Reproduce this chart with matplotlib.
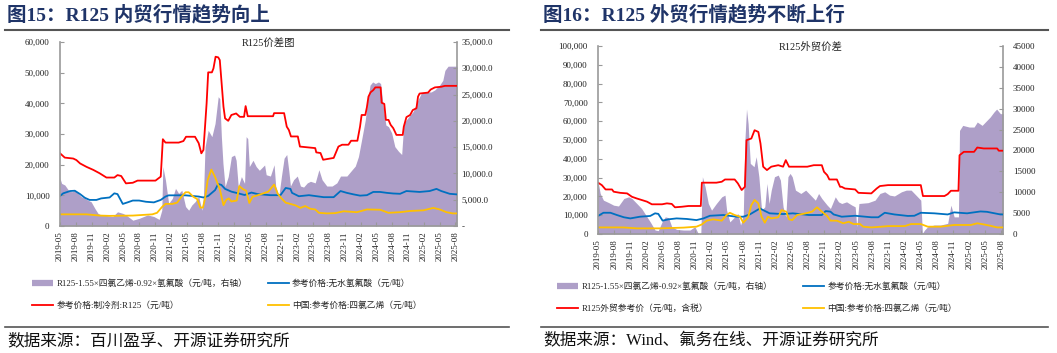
import matplotlib.pyplot as plt
from matplotlib.lines import Line2D

plt.rcParams['font.family'] = ['Liberation Serif', 'Noto Sans CJK SC']

# x = months since 2019-05
month_labels = ['2019-05', '2019-08', '2019-11', '2020-02', '2020-05', '2020-08', '2020-11',
                '2021-02', '2021-05', '2021-08', '2021-11', '2022-02', '2022-05', '2022-08',
                '2022-11', '2023-02', '2023-05', '2023-08', '2023-11', '2024-02', '2024-05',
                '2024-08', '2024-11', '2025-02', '2025-05', '2025-08']
month_ticks = [i * 3 for i in range(len(month_labels))]

# ---------- 图15 内贸 ----------
dom_r125 = [(0, 23700), (0.9, 22300), (2.5, 22000), (3.1, 21500), (3.8, 20400), (5, 19300), (6.3, 18300),
            (7.5, 17200), (8.8, 15800), (10.3, 15800), (10.9, 16600), (11.6, 16300), (12.5, 13900),
            (13.8, 14100), (14.7, 14800), (18.1, 14800), (19.1, 16100), (19.5, 28300), (20, 27200),
            (22.5, 27200), (23.4, 27700), (23.9, 29100), (25.6, 29100), (26.3, 27000), (26.8, 23700),
            (27.2, 24800), (27.8, 40000), (28.1, 50100), (28.8, 50100), (29.1, 51400), (29.5, 55200),
            (30, 55000), (30.3, 54100), (30.6, 47600), (31, 38900), (31.3, 35100), (31.9, 34300),
            (32.5, 36200), (33.4, 36700), (34.1, 35600), (34.9, 35600), (35.2, 39100), (35.6, 35800),
            (40.4, 35800), (40.6, 36800), (42.5, 36800), (43, 32400), (43.4, 31300), (43.8, 29200),
            (45.1, 29200), (45.5, 25900), (48.4, 25400), (48.6, 24000), (49.4, 23800), (49.9, 21600),
            (51.9, 22200), (52.8, 25900), (53.5, 26500), (54.7, 26500), (55.2, 27800), (56.4, 27800),
            (56.9, 32400), (57.2, 36200), (57.9, 36200), (58.2, 38700), (58.5, 42200), (58.9, 43600),
            (59.4, 44300), (59.8, 45200), (60.8, 45200), (61, 40200), (61.5, 39800), (61.8, 34600),
            (62.3, 34600), (62.7, 33000), (63.2, 31900), (63.8, 29700), (65, 29700), (65.2, 32400),
            (65.7, 35500), (66.4, 36200), (66.9, 37800), (67.6, 38400), (67.9, 42200), (68.2, 43200),
            (69.8, 43500), (70.3, 44500), (71.1, 45200), (72.3, 45400), (73, 45700), (75.3, 45700)]

dom_hf = [(0, 9800), (0.6, 10650), (1.9, 11400), (2.8, 11500), (3.8, 10400), (4.7, 9200), (5.6, 8500),
          (6.9, 8500), (7.8, 9000), (9.4, 9300), (10.3, 10650), (10.9, 10400), (11.9, 7200), (12.8, 7700),
          (13.8, 8300), (15, 8300), (16.3, 7900), (17.8, 7700), (19.1, 8500), (20, 9600), (20.6, 10000),
          (23.8, 10000), (26.3, 9600), (27.2, 9300), (28.1, 9800), (29.4, 11700), (30, 13700),
          (30.6, 13400), (31.3, 12100), (32.5, 11200), (33.8, 10650), (35, 10100), (36.3, 10900),
          (37.5, 10400), (39.9, 10050), (41.8, 10050), (42.8, 12400), (43.7, 12100), (44, 10800),
          (45.3, 9700), (47.2, 10050), (48.7, 9700), (50, 9400), (51.9, 9400), (53.2, 11400),
          (54.4, 10800), (55.7, 10300), (56.9, 9900), (58.2, 10050), (59.4, 11100), (60.7, 11100),
          (62, 10800), (63.2, 10600), (64.5, 10500), (65.7, 11400), (68.2, 11100), (70.1, 11400),
          (71.4, 12100), (72.3, 11400), (73.9, 10500), (75.3, 10300)]

dom_pce = [(0, 3800), (5, 3800), (7.5, 3400), (9.4, 3300), (13.8, 3400), (17.5, 3800), (18.4, 4300),
           (19.4, 6300), (20, 7200), (21.3, 7200), (22.2, 7600), (23, 9500), (23.8, 11000), (24.4, 11000),
           (25.3, 9500), (26, 8800), (26.6, 6000), (27.1, 6000), (27.5, 9000), (28, 15000), (28.7, 18400),
           (29.4, 16000), (30.3, 12000), (31, 6800), (31.5, 8500), (32, 9000), (32.5, 8000), (33.5, 8300),
           (34, 13000), (34.7, 12000), (35.3, 11500), (35.9, 7500), (36.5, 9500), (37.8, 10200),
           (39.5, 11200), (40.6, 13500), (41.3, 10500), (42, 9000), (42.8, 7600), (43.7, 7200),
           (44.7, 6700), (45.6, 5900), (46.5, 6500), (47.5, 5600), (48.4, 5400), (49.1, 4300),
           (50.6, 4100), (52.2, 4200), (53.8, 4800), (56.3, 4500), (58.2, 5400), (60.7, 5300),
           (62.3, 4300), (64.5, 4500), (66.4, 4900), (68.9, 5100), (70.8, 5900), (72, 5400),
           (73.3, 4500), (74.5, 4100), (75.3, 4100)]

dom_spread = [(0, 9050), (0.3, 8100), (0.9, 7800), (1.6, 6800), (2.2, 6500), (2.8, 6800), (3.4, 6200),
              (4, 5600), (4.7, 5250), (5.3, 4900), (5.9, 4600), (6.6, 3350), (7.2, 2400), (7.8, 2100),
              (8.8, 2000), (10, 1800), (10.9, 2700), (11.9, 2400), (12.5, 2100), (13.8, 1100), (15, 1450),
              (16.6, 2100), (17.8, 1800), (18.8, 1250), (19.3, 3000), (19.5, 11300), (20, 8700),
              (20.6, 4300), (21.3, 5250), (21.9, 7150), (22.5, 6200), (23.1, 6800), (23.8, 3700),
              (24.4, 3000), (25, 4000), (25.6, 4600), (26.3, 5600), (26.9, 3000), (27.2, 5600),
              (27.5, 15000), (28.1, 18200), (28.8, 17000), (29.4, 19500), (30, 24600), (30.3, 24200),
              (30.6, 17000), (30.9, 11900), (31.3, 7500), (31.9, 9400), (32.5, 13200), (33.1, 13500),
              (33.4, 12500), (33.8, 7500), (34.4, 9400), (35, 8100), (35.3, 17000), (35.6, 16600),
              (35.9, 11300), (36.6, 12500), (37.2, 11300), (37.8, 10600), (38.8, 11600), (39.1, 9750),
              (39.9, 9500), (40.6, 11650), (40.9, 7600), (41.5, 5700), (42, 9500), (42.5, 12900),
              (43, 13600), (43.4, 10400), (43.7, 7600), (44.3, 8800), (45, 9500), (45.6, 7600),
              (46.2, 7400), (46.9, 8200), (47.5, 8500), (48.4, 8200), (49.1, 10700), (49.7, 8800),
              (50.6, 7600), (51.6, 7600), (52.5, 8200), (53.2, 9500), (54.4, 9500), (55.4, 10700),
              (56, 11400), (56.6, 13200), (57.2, 16400), (57.9, 20200), (58.3, 23600), (58.8, 26800),
              (59.3, 27400), (59.8, 27100), (60.4, 27400), (60.8, 27100), (61.3, 22700), (61.8, 19200),
              (62.3, 18900), (62.9, 17700), (63.5, 15100), (64.2, 14200), (64.8, 13600), (65.2, 19500),
              (65.7, 20200), (66.4, 21100), (67, 21800), (67.9, 24000), (68.6, 25400), (69.5, 25500),
              (70.4, 25500), (71.1, 25900), (72, 26800), (72.6, 27700), (73, 29600), (73.6, 30400),
              (75.3, 30400)]

# ---------- 图16 外贸 ----------
exp_r125 = [(0, 27300), (0.7, 26000), (1.4, 23700), (2.6, 23700), (2.9, 22500), (4.1, 21900), (5.4, 21600),
            (6.3, 19800), (7.2, 18900), (8.1, 18100), (9.1, 17200), (10, 15800), (11.9, 15800),
            (12.8, 16300), (13.7, 16000), (14.3, 14200), (15.6, 14500), (16.8, 14900), (19.1, 14900),
            (19.3, 27300), (22, 27300), (23, 27800), (23.6, 29000), (25.4, 29000), (26, 26900),
            (26.7, 23400), (27.3, 25100), (27.6, 49900), (28.5, 50800), (29.1, 55200), (29.8, 54300),
            (30.2, 48100), (30.7, 35800), (31.4, 34000), (32.2, 35800), (33.5, 36600), (34.4, 35800),
            (34.9, 39300), (35.5, 35800), (38.9, 35800), (40.1, 36600), (41.6, 36600), (42, 33100),
            (42.6, 31300), (43, 29000), (44.4, 29000), (45, 25100), (45.3, 25100), (45.9, 24200),
            (47.8, 23700), (48.4, 21900), (50.8, 21600), (51.8, 24200), (52.4, 25500), (53.9, 26000),
            (60, 26000), (60.4, 20200), (64.4, 20200), (65, 21200), (65.6, 23000), (67, 23000),
            (67.2, 41900), (68, 43700), (69.9, 43700), (70.5, 46000), (71.7, 45500), (74.2, 45500),
            (74.5, 44300), (75.3, 44300)]

exp_hf = [(0, 9600), (1, 11300), (2.3, 11300), (3.5, 10100), (4.8, 8900), (6, 8300), (7.8, 9200),
          (9.7, 9600), (10.6, 11000), (11.2, 10700), (12, 7100), (13.1, 7800), (14.6, 8300), (16.5, 8000),
          (18.3, 7400), (19.6, 8300), (20.8, 9700), (23.3, 10100), (25.7, 9200), (27, 9200),
          (28.2, 10400), (30.1, 13600), (30.7, 12700), (31.9, 11000), (34.4, 10600), (36.2, 11000),
          (39.2, 10100), (41.6, 10100), (42.3, 12200), (43.2, 11900), (43.8, 10400), (45.3, 9200),
          (47.8, 9700), (50.8, 8900), (52.1, 8900), (53.3, 11300), (55.1, 10400), (57.6, 9600),
          (58.8, 9700), (60, 11300), (62.5, 11000), (65, 10400), (66.2, 11500), (68.6, 11000),
          (71.1, 12000), (72.3, 11800), (74.8, 10400), (75.3, 10400)]

exp_pce = [(0, 3500), (4.7, 3500), (7.2, 3000), (11.5, 3000), (15.9, 3400), (18.3, 3900), (19.3, 5100),
           (20.2, 7100), (21.4, 7800), (23, 7100), (23.9, 10100), (24.5, 11300), (25.4, 10100),
           (26.4, 9200), (27, 6000), (27.9, 8900), (28.5, 15400), (29.1, 18100), (29.8, 16300),
           (30.4, 9200), (31, 6000), (31.6, 9200), (32.2, 8300), (33.5, 8900), (34.1, 12700),
           (35, 11900), (35.5, 7800), (36.1, 7400), (37, 10100), (38.6, 11000), (39.8, 11900),
           (40.7, 14200), (41.6, 11900), (42.6, 9600), (43.2, 7100), (44.4, 7100), (45.6, 5700),
           (46.6, 6500), (47.5, 5300), (48.7, 5300), (49.3, 3900), (50.8, 3500), (52.7, 3900),
           (53.9, 4200), (57, 4200), (58.2, 5300), (60, 5300), (61.3, 3900), (63.7, 3900), (66.2, 4800),
           (69.3, 4800), (70.5, 5700), (71.7, 5100), (72.9, 4400), (74.2, 3500), (75.3, 3500)]

exp_spread = [(0, 12500), (0.4, 9700), (1, 8100), (2, 7500), (2.9, 6900), (3.8, 6700), (4.8, 8500),
              (5.7, 8900), (6.3, 8500), (7.2, 7300), (8.1, 6100), (9.1, 4100), (9.7, 2900), (10.6, 950),
              (11.2, 800), (11.9, 2900), (12.5, 4100), (13.1, 3900), (13.7, 1750), (14.6, 1100),
              (15.9, 950), (17.1, 950), (18, 1750), (18.6, 160), (19.1, -300), (19.4, 13700),
              (19.9, 11300), (20.5, 7300), (21.1, 5700), (22, 7300), (23, 8900), (23.6, 9300),
              (23.9, 5700), (24.5, 2900), (25.4, 4100), (26, 4900), (26.5, 2150), (27, 4500),
              (27.3, 22400), (27.6, 29900), (27.9, 26400), (28.3, 16900), (29, 16100), (29.4, 18500),
              (29.9, 13700), (30.4, 5700), (31, 6500), (31.4, 12100), (31.8, 7300), (32.2, 10500),
              (32.8, 13700), (33.5, 14100), (33.9, 12900), (34.4, 6500), (34.9, 4100), (35.3, 13700),
              (35.7, 14500), (36.1, 13700), (36.7, 10500), (37.7, 9700), (38.6, 10500), (39.5, 9300),
              (40.4, 8100), (41, 9700), (41.6, 8500), (42.6, 6900), (43.2, 6100), (44.1, 8900),
              (44.7, 7700), (45.3, 7300), (46.2, 7700), (47.2, 6900), (47.8, 6500), (48.1, 1750),
              (48.5, 7300), (50.2, 7500), (51.5, 8100), (52.4, 9700), (53.3, 10100), (54.2, 9300),
              (55.1, 9100), (56.4, 10100), (57.3, 10500), (58.2, 10500), (58.8, 9700), (59.4, 8900),
              (60, 8100), (60.3, 160), (60.7, 950), (61.3, 1750), (62.5, 2150), (63.7, 2150), (65, 2550),
              (65.6, 6900), (66.2, 4100), (67, 4100), (67.2, 24800), (67.8, 26000), (69, 25600),
              (69.9, 25600), (70.5, 26800), (71.4, 26000), (72.3, 27200), (72.9, 28000), (73.6, 29200),
              (74.1, 29900), (74.8, 28800), (75.3, 28800)]

PURPLE = '#AE9FC8'
RED = '#FF0000'
BLUE = '#0070C0'
YELLOW = '#FFC000'
GRAY = '#999999'
TXT = '#222222'


def xy(pairs):
    return [p[0] for p in pairs], [p[1] for p in pairs]


def draw_panel(rect, red, blue, yellow, spread, lmax, lstep, rmax, rstep, rfmt, inner_title, title_x):
    ax = fig.add_axes(rect)
    ax2 = ax.twinx()
    ax.set_zorder(ax2.get_zorder() + 1)
    ax.patch.set_visible(False)

    t, v = xy(spread)
    ax2.fill_between(t, v, 0, color=PURPLE, lw=0)
    for s, c in [(blue, BLUE), (yellow, YELLOW), (red, RED)]:
        t, v = xy(s)
        ax.plot(t, v, color=c, lw=1.3)

    ax.set_xlim(0, 75.3)
    ax.set_ylim(0, lmax)
    ax2.set_ylim(0, rmax)
    ax.set_yticks(range(0, lmax + 1, lstep))
    ax.set_yticklabels(['{:,}'.format(y) for y in range(0, lmax + 1, lstep)])
    ax2.set_yticks(range(0, rmax + 1, rstep))
    ax2.set_yticklabels([rfmt(y) for y in range(0, rmax + 1, rstep)])
    ax.set_xticks(month_ticks)
    ax.set_xticklabels(month_labels, rotation=90)

    for a in (ax, ax2):
        a.spines['top'].set_visible(False)
        for sp in a.spines.values():
            sp.set_color(GRAY)
            sp.set_linewidth(1.2)
    ax.spines['right'].set_visible(False)
    ax2.spines['left'].set_visible(False)
    ax2.spines['bottom'].set_visible(False)

    ax.tick_params(axis='y', direction='in', length=3, color=GRAY, labelsize=6.5, labelcolor=TXT, pad=7.5)
    ax.tick_params(axis='x', direction='in', length=3, color=GRAY, labelsize=6.5, labelcolor=TXT, pad=4)
    ax2.tick_params(axis='y', direction='in', length=3, color=GRAY, labelsize=6.5, labelcolor=TXT, pad=3)

    fig.text(title_x, rect[1] + rect[3] - 0.003, inner_title, ha='center', va='center',
             fontsize=7.5, color=TXT)
    return ax, ax2


fig = plt.figure(figsize=(10.57, 3.53), dpi=100)

ax_l, ax_l2 = draw_panel([0.0568, 0.3598, 0.3756, 0.5212], dom_r125, dom_hf, dom_pce, dom_spread,
                         60000, 10000, 35000, 5000,
                         lambda y: '-' if y == 0 else '{:,.1f}'.format(y),
                         'R125价差图', 269 / 1057)
ax_r, ax_r2 = draw_panel([0.5658, 0.3371, 0.3832, 0.5326], exp_r125, exp_hf, exp_pce, exp_spread,
                         100000, 10000, 45000, 5000,
                         lambda y: str(y),
                         'R125外贸价差', 811 / 1057)
ax_r2.tick_params(axis='y', pad=7)


# legends
def legend(ax, labels, x, y, colsp):
    handles = [Line2D([], [], color=PURPLE, lw=4.5, solid_capstyle='butt'),
               Line2D([], [], color=RED, lw=1.3),
               Line2D([], [], color=BLUE, lw=1.3),
               Line2D([], [], color=YELLOW, lw=1.3)]
    leg = ax.legend(handles, labels, ncol=2, loc='upper left', bbox_to_anchor=(x, y),
                    bbox_transform=fig.transFigure, frameon=False, fontsize=6.3,
                    handlelength=2.4, handletextpad=0.4, columnspacing=colsp, labelspacing=1.6,
                    borderaxespad=0, borderpad=0)
    for tx in leg.get_texts():
        tx.set_color(TXT)


legend(ax_l, ['R125-1.55×四氯乙烯-0.92×氢氟酸（元/吨，右轴）', '参考价格:制冷剂:R125（元/吨）',
              '参考价格:无水氢氟酸（元/吨）', '中国:参考价格:四氯乙烯（元/吨）'],
       32 / 1057, 1 - 279 / 353, 2.3)
legend(ax_r, ['R125-1.55×四氯乙烯-0.92×氢氟酸（元/吨，右轴）', 'R125外贸参考价（元/吨，含税）',
              '参考价格:无水氢氟酸（元/吨）', '中国:参考价格:四氯乙烯（元/吨）'],
       557 / 1057, 1 - 282 / 353, 3.5)

# headers and sources
for x0, x1, title, src in [(5, 509, '图15：R125 内贸行情趋势向上', '数据来源：百川盈孚、开源证券研究所'),
                           (541, 1048, '图16：R125 外贸行情趋势不断上行', '数据来源：Wind、氟务在线、开源证券研究所')]:
    fig.text((x0 + 2) / 1057, 1 - 15 / 353, title, fontsize=14, fontweight='bold',
             color='#1F3468', ha='left', va='center')
    fig.add_artist(Line2D([x0 / 1057, x1 / 1057], [1 - 30 / 353] * 2, transform=fig.transFigure,
                          color='#555555', lw=1.5))
    fig.add_artist(Line2D([x0 / 1057, x1 / 1057], [1 - 327 / 353] * 2, transform=fig.transFigure,
                          color='#555555', lw=1.2))
    fig.text((x0 + 2) / 1057, 1 - 341 / 353, src, fontsize=12, color='#111111', ha='left', va='center')

fig.savefig('out.png', dpi=100)
